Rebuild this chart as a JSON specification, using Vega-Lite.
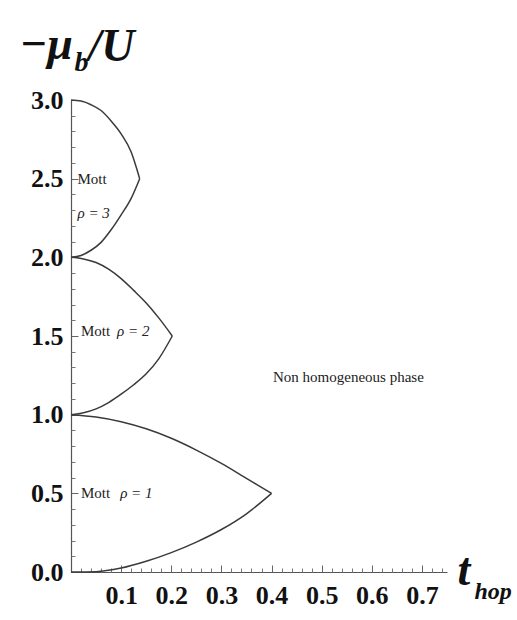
{
  "$schema": "https://vega.github.io/schema/vega-lite/v6.json",
  "width": 376,
  "height": 472,
  "autosize": {"type": "none"},
  "padding": {"left": 71, "top": 100, "right": 70, "bottom": 48},
  "background": "white",
  "config": {"view": {"stroke": null}, "font": "Liberation Serif"},
  "datasets": {
    "lobes": [
      {"branch": "rho1_upper", "t": 0.0, "mu": 1.0},
      {"branch": "rho1_upper", "t": 0.05, "mu": 0.985},
      {"branch": "rho1_upper", "t": 0.1, "mu": 0.955},
      {"branch": "rho1_upper", "t": 0.15, "mu": 0.91},
      {"branch": "rho1_upper", "t": 0.2, "mu": 0.85},
      {"branch": "rho1_upper", "t": 0.25, "mu": 0.775},
      {"branch": "rho1_upper", "t": 0.3, "mu": 0.69},
      {"branch": "rho1_upper", "t": 0.35, "mu": 0.595},
      {"branch": "rho1_upper", "t": 0.4, "mu": 0.5},
      {"branch": "rho1_lower", "t": 0.0, "mu": 0.0},
      {"branch": "rho1_lower", "t": 0.05, "mu": 0.002},
      {"branch": "rho1_lower", "t": 0.1, "mu": 0.025},
      {"branch": "rho1_lower", "t": 0.15, "mu": 0.068},
      {"branch": "rho1_lower", "t": 0.2, "mu": 0.123},
      {"branch": "rho1_lower", "t": 0.25, "mu": 0.19},
      {"branch": "rho1_lower", "t": 0.3, "mu": 0.27},
      {"branch": "rho1_lower", "t": 0.35, "mu": 0.37},
      {"branch": "rho1_lower", "t": 0.4, "mu": 0.5},
      {"branch": "rho2_upper", "t": 0.0, "mu": 2.0},
      {"branch": "rho2_upper", "t": 0.025, "mu": 1.99},
      {"branch": "rho2_upper", "t": 0.05, "mu": 1.967},
      {"branch": "rho2_upper", "t": 0.075, "mu": 1.925},
      {"branch": "rho2_upper", "t": 0.1, "mu": 1.865},
      {"branch": "rho2_upper", "t": 0.125, "mu": 1.79},
      {"branch": "rho2_upper", "t": 0.15, "mu": 1.71},
      {"branch": "rho2_upper", "t": 0.175, "mu": 1.615},
      {"branch": "rho2_upper", "t": 0.202, "mu": 1.5},
      {"branch": "rho2_lower", "t": 0.0, "mu": 1.0},
      {"branch": "rho2_lower", "t": 0.025, "mu": 1.012},
      {"branch": "rho2_lower", "t": 0.05, "mu": 1.037},
      {"branch": "rho2_lower", "t": 0.075, "mu": 1.077},
      {"branch": "rho2_lower", "t": 0.1, "mu": 1.13},
      {"branch": "rho2_lower", "t": 0.125, "mu": 1.19},
      {"branch": "rho2_lower", "t": 0.15, "mu": 1.26},
      {"branch": "rho2_lower", "t": 0.175, "mu": 1.355},
      {"branch": "rho2_lower", "t": 0.202, "mu": 1.5},
      {"branch": "rho3_upper", "t": 0.0, "mu": 3.0},
      {"branch": "rho3_upper", "t": 0.02, "mu": 2.993},
      {"branch": "rho3_upper", "t": 0.04, "mu": 2.97},
      {"branch": "rho3_upper", "t": 0.06, "mu": 2.933},
      {"branch": "rho3_upper", "t": 0.08, "mu": 2.867},
      {"branch": "rho3_upper", "t": 0.1, "mu": 2.785},
      {"branch": "rho3_upper", "t": 0.12, "mu": 2.67},
      {"branch": "rho3_upper", "t": 0.137, "mu": 2.5},
      {"branch": "rho3_lower", "t": 0.0, "mu": 2.0},
      {"branch": "rho3_lower", "t": 0.02, "mu": 2.012},
      {"branch": "rho3_lower", "t": 0.04, "mu": 2.045},
      {"branch": "rho3_lower", "t": 0.06, "mu": 2.095},
      {"branch": "rho3_lower", "t": 0.08, "mu": 2.175},
      {"branch": "rho3_lower", "t": 0.1, "mu": 2.27},
      {"branch": "rho3_lower", "t": 0.12, "mu": 2.375},
      {"branch": "rho3_lower", "t": 0.137, "mu": 2.5}
    ],
    "names": [
      {"label": "Mott", "t": 0.013, "mu": 2.5},
      {"label": "Mott", "t": 0.02, "mu": 1.53},
      {"label": "Mott", "t": 0.02, "mu": 0.5},
      {"label": "Non homogeneous phase", "t": 0.403, "mu": 1.24}
    ],
    "fillings": [
      {"label": "ρ = 3", "t": 0.013, "mu": 2.28},
      {"label": "ρ = 2", "t": 0.092, "mu": 1.53},
      {"label": "ρ = 1", "t": 0.098, "mu": 0.5}
    ]
  },
  "layer": [
    {
      "data": {"name": "lobes"},
      "mark": {"type": "line", "interpolate": "monotone", "stroke": "#3a3a3a", "strokeWidth": 1.5},
      "encoding": {
        "x": {
          "field": "t", "type": "quantitative",
          "scale": {"domain": [0, 0.75], "nice": false, "zero": false},
          "axis": {
            "orient": "bottom", "values": [0.1, 0.2, 0.3, 0.4, 0.5, 0.6, 0.7], "format": ".1f",
            "grid": false, "tickSize": -7, "tickColor": "#666", "domainColor": "#555", "domainWidth": 1.2,
            "labelFont": "Liberation Serif", "labelFontWeight": "bold", "labelFontSize": 26, "labelColor": "#111",
            "labelPadding": 17, "labelFlush": false, "labelBaseline": "top",
            "title": "t", "titleFont": "Liberation Serif", "titleFontStyle": "italic", "titleFontWeight": "bold",
            "titleFontSize": 46, "titleColor": "#111", "titleAngle": 0, "titleAlign": "left", "titleBaseline": "alphabetic",
            "titleX": 386, "titleY": 12
          }
        },
        "y": {
          "field": "mu", "type": "quantitative",
          "scale": {"domain": [0, 3], "nice": false, "zero": false},
          "axis": {
            "orient": "left", "values": [0, 0.5, 1, 1.5, 2, 2.5, 3], "format": ".1f",
            "grid": false, "tickSize": -7, "tickColor": "#666", "domainColor": "#555", "domainWidth": 1.2,
            "labelFont": "Liberation Serif", "labelFontWeight": "bold", "labelFontSize": 26, "labelColor": "#111",
            "labelPadding": 15, "labelFlush": false,
            "title": "−μ", "titleFont": "Liberation Serif", "titleFontStyle": "italic", "titleFontWeight": "bold",
            "titleFontSize": 46, "titleColor": "#111", "titleAngle": 0, "titleAlign": "left", "titleBaseline": "alphabetic",
            "titleX": -52, "titleY": -42
          }
        },
        "detail": {"field": "branch"}
      }
    },
    {
      "data": {"name": "names"},
      "mark": {"type": "text", "align": "left", "baseline": "middle", "font": "Liberation Serif", "fontSize": 15, "color": "#222"},
      "encoding": {
        "x": {
          "field": "t", "type": "quantitative",
          "axis": {
            "orient": "bottom", "values": [0.02, 0.04, 0.06, 0.08, 0.12, 0.14, 0.16, 0.18, 0.22, 0.24, 0.26, 0.28, 0.32, 0.34, 0.36, 0.38, 0.42, 0.44, 0.46, 0.48, 0.52, 0.54, 0.56, 0.58, 0.62, 0.64, 0.66, 0.68, 0.72, 0.74],
            "grid": false, "labels": false, "domain": false, "tickSize": -4, "tickColor": "#777",
            "title": "hop", "titleFont": "Liberation Serif", "titleFontStyle": "italic", "titleFontWeight": "bold",
            "titleFontSize": 24, "titleColor": "#111", "titleAngle": 0, "titleAlign": "left", "titleBaseline": "alphabetic",
            "titleX": 403, "titleY": 26
          }
        },
        "y": {
          "field": "mu", "type": "quantitative",
          "axis": {
            "orient": "left", "values": [0.1, 0.2, 0.3, 0.4, 0.6, 0.7, 0.8, 0.9, 1.1, 1.2, 1.3, 1.4, 1.6, 1.7, 1.8, 1.9, 2.1, 2.2, 2.3, 2.4, 2.6, 2.7, 2.8, 2.9],
            "grid": false, "labels": false, "domain": false, "tickSize": -4, "tickColor": "#777",
            "title": "b", "titleFont": "Liberation Serif", "titleFontStyle": "italic", "titleFontWeight": "bold",
            "titleFontSize": 28, "titleColor": "#111", "titleAngle": 0, "titleAlign": "left", "titleBaseline": "alphabetic",
            "titleX": 3, "titleY": -30
          }
        },
        "text": {"field": "label"}
      }
    },
    {
      "data": {"name": "fillings"},
      "mark": {"type": "text", "align": "left", "baseline": "middle", "font": "Liberation Serif", "fontStyle": "italic", "fontSize": 15, "color": "#222"},
      "encoding": {
        "x": {"field": "t", "type": "quantitative", "axis": null},
        "y": {
          "field": "mu", "type": "quantitative",
          "axis": {
            "orient": "left", "values": [], "grid": false, "labels": false, "domain": false, "ticks": false,
            "title": "/U", "titleFont": "Liberation Serif", "titleFontStyle": "italic", "titleFontWeight": "bold",
            "titleFontSize": 46, "titleColor": "#111", "titleAngle": 0, "titleAlign": "left", "titleBaseline": "alphabetic",
            "titleX": 17, "titleY": -40
          }
        },
        "text": {"field": "label"}
      }
    }
  ],
  "resolve": {"axis": {"x": "independent", "y": "independent"}}
}
